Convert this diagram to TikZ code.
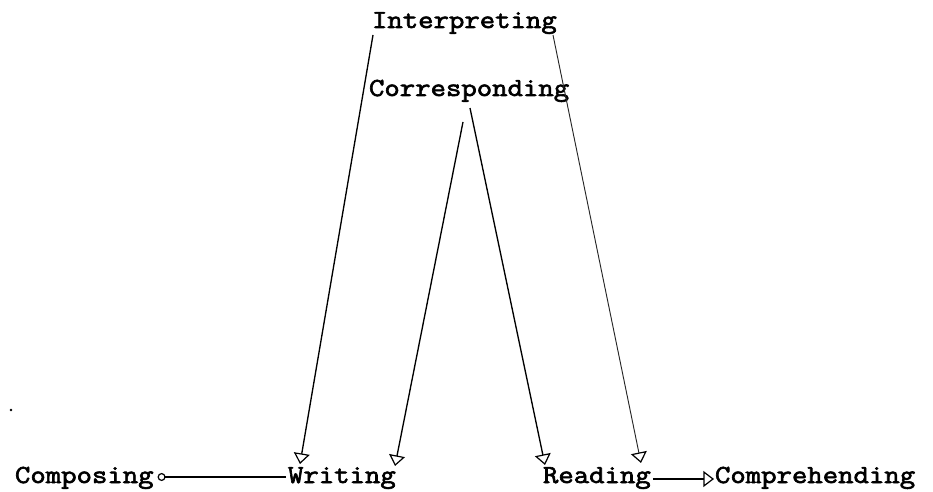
\documentclass[tikz,border=0pt]{standalone}
\usepackage{fontspec}
\newfontfamily\dfont[FakeStretch=1.15, FakeBold=2.5]{Latin Modern Mono}
\usetikzlibrary{arrows.meta}
\tikzset{
  lbl/.style={anchor=base west, inner sep=0pt, outer sep=0pt, font=\dfont\fontsize{19.5}{22}\selectfont},
  conn/.style={line width=1pt, -{Triangle[open, length=8pt, width=12pt, line width=0.9pt]}},
  thinconn/.style={line width=0.7pt, black!85, -{Triangle[open, length=8pt, width=12pt, line width=0.9pt, black]}},
  lolli/.style={line width=1pt, -{Circle[open, length=6pt, line width=0.9pt]}}
}
\begin{document}
\begin{tikzpicture}[x=0.75pt, y=-0.75pt]
\useasboundingbox (0,0) rectangle (933,492);
\node[lbl] (interp) at (372,28) {Interpreting};
\node[lbl] (corr) at (369,96) {Corresponding};
\node[lbl] (comp) at (15,483) {Composing};
\node[lbl] (writ) at (288,483) {Writing};
\node[lbl] (read) at (543,483) {Reading};
\node[lbl] (compr) at (715,483) {Comprehending};
% connectors
\draw[conn] ([shift={(1,7)}]interp.base west) -- ([shift={(12,-19)}]writ.base west);
\draw[thinconn] ([shift={(181,7)}]interp.base west) -- ([shift={(98,-20)}]read.base west);
\draw[conn] ([shift={(94,26)}]corr.base west) -- ([shift={(107,-17)}]writ.base west);
\draw[conn] ([shift={(101,12)}]corr.base west) -- ([shift={(2,-18)}]read.base west);
\draw[lolli] ([shift={(-2,-6)}]writ.base west) -- ([shift={(4,-6)}]comp.base east);
\draw[conn] ([shift={(2,-4)}]read.base east) -- ([shift={(-1,-4)}]compr.base west);
% stray dot
\fill (11,410) circle (1.3);
\end{tikzpicture}
\end{document}
